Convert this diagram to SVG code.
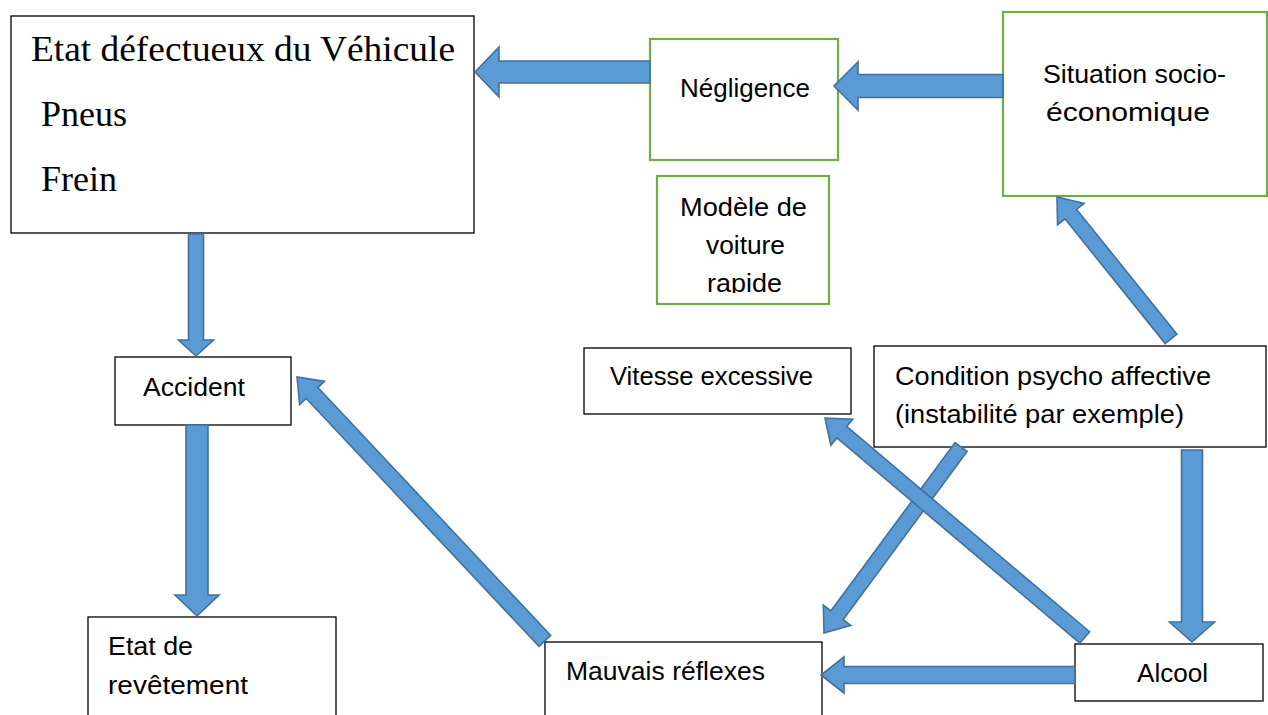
<svg xmlns="http://www.w3.org/2000/svg" width="1268" height="715" viewBox="0 0 1268 715">
<style>
.bk{fill:#fff;stroke:#000;stroke-width:1.3}
.gr{fill:#fff;stroke:#70AD47;stroke-width:2.2}
.t{font-family:"Liberation Sans",Arial,sans-serif;font-size:25px;fill:#000}
.s{font-family:"Liberation Serif","Times New Roman",serif;font-size:36px;fill:#000}
.ar{fill:#5B9BD5;stroke:#41719C;stroke-width:1.6;stroke-linejoin:miter}
</style>
<defs>
<clipPath id="clipModele"><rect x="658" y="177" width="170" height="116"/></clipPath>
</defs>
<rect width="1268" height="715" fill="#fff"/>

<g id="etat-vehicule">
<rect class="bk" x="11" y="16" width="463" height="217"/>
<text class="s" x="31" y="61" textLength="424" lengthAdjust="spacingAndGlyphs">Etat défectueux du Véhicule</text>
<text class="s" x="41" y="126">Pneus</text>
<text class="s" x="41" y="191">Frein</text>
</g>

<g id="negligence">
<rect class="gr" x="650" y="39" width="188" height="121"/>
<text class="t" x="680" y="97" textLength="130" lengthAdjust="spacingAndGlyphs">Négligence</text>
</g>

<g id="situation">
<rect class="gr" x="1003" y="12" width="264" height="184"/>
<text class="t" x="1043" y="83" textLength="183" lengthAdjust="spacingAndGlyphs">Situation socio-</text>
<text class="t" x="1046" y="121" textLength="164" lengthAdjust="spacingAndGlyphs">économique</text>
</g>

<g id="modele">
<rect class="gr" x="657" y="176" width="172" height="128"/>
<g clip-path="url(#clipModele)">
<text class="t" x="680" y="216" textLength="127" lengthAdjust="spacingAndGlyphs">Modèle de</text>
<text class="t" x="706" y="254" textLength="79" lengthAdjust="spacingAndGlyphs">voiture</text>
<text class="t" x="707" y="292" textLength="75" lengthAdjust="spacingAndGlyphs">rapide</text>
</g>
</g>

<g id="accident">
<rect class="bk" x="115" y="357" width="176" height="68"/>
<text class="t" x="143" y="396" textLength="102" lengthAdjust="spacingAndGlyphs">Accident</text>
</g>

<g id="vitesse">
<rect class="bk" x="584" y="348" width="267" height="66"/>
<text class="t" x="610" y="385" textLength="203" lengthAdjust="spacingAndGlyphs">Vitesse excessive</text>
</g>

<g id="condition">
<rect class="bk" x="874" y="346" width="392" height="101"/>
<text class="t" x="895" y="385" textLength="316" lengthAdjust="spacingAndGlyphs">Condition psycho affective</text>
<text class="t" x="895" y="423" textLength="289" lengthAdjust="spacingAndGlyphs">(instabilité par exemple)</text>
</g>

<g id="revetement">
<rect class="bk" x="88" y="617" width="248" height="110"/>
<text class="t" x="108" y="655" textLength="85" lengthAdjust="spacingAndGlyphs">Etat de</text>
<text class="t" x="108" y="694" textLength="140" lengthAdjust="spacingAndGlyphs">revêtement</text>
</g>

<g id="mauvais-reflexes">
<rect class="bk" x="545" y="642" width="277" height="90"/>
<text class="t" x="566" y="680" textLength="199" lengthAdjust="spacingAndGlyphs">Mauvais réflexes</text>
</g>

<g id="alcool">
<rect class="bk" x="1075" y="644" width="188" height="57"/>
<text class="t" x="1137" y="682" textLength="71" lengthAdjust="spacingAndGlyphs">Alcool</text>
</g>

<g id="connectors">
<polygon class="ar" transform="translate(475,72) rotate(180)" points="0,0 -24,-25 -24,-11 -175,-11 -175,11 -24,11 -24,25"/>
<polygon class="ar" transform="translate(834,86) rotate(180)" points="0,0 -24,-24 -24,-11.5 -169,-11.5 -169,11.5 -24,11.5 -24,24"/>
<polygon class="ar" transform="translate(196,356) rotate(90)" points="0,0 -16,-17.5 -16,-7.5 -122,-7.5 -122,7.5 -16,7.5 -16,17.5"/>
<polygon class="ar" transform="translate(197,616) rotate(90)" points="0,0 -21,-22 -21,-11 -191,-11 -191,11 -21,11 -21,22"/>
<polygon class="ar" transform="translate(297,377) rotate(226.8)" points="0,0 -22,-17 -22,-8 -362,-8 -362,8 -22,8 -22,17"/>
<polygon class="ar" transform="translate(1057,197) rotate(231.2)" points="0,0 -22,-17 -22,-7.5 -182,-7.5 -182,7.5 -22,7.5 -22,17"/>
<polygon class="ar" transform="translate(824,633) rotate(126.4)" points="0,0 -22,-17 -22,-7.5 -231,-7.5 -231,7.5 -22,7.5 -22,17"/>
<polygon class="ar" transform="translate(825,418) rotate(220.2)" points="0,0 -22,-17 -22,-7.5 -340,-7.5 -340,7.5 -22,7.5 -22,17"/>
<polygon class="ar" transform="translate(1192,642) rotate(90)" points="0,0 -20,-22.5 -20,-10.5 -192,-10.5 -192,10.5 -20,10.5 -20,22.5"/>
<polygon class="ar" transform="translate(821,675) rotate(180)" points="0,0 -23,-18 -23,-8.5 -254,-8.5 -254,8.5 -23,8.5 -23,18"/>
</g>
</svg>
